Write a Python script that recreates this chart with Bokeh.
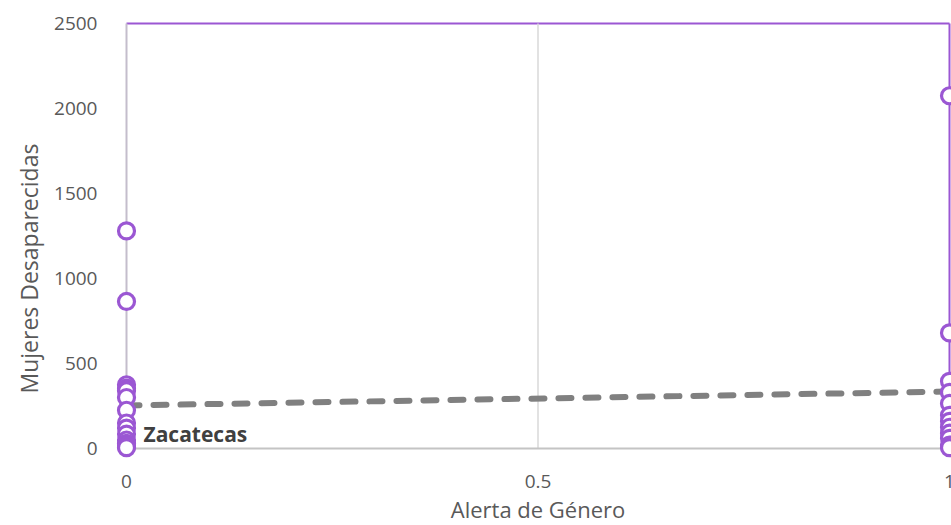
from bokeh.plotting import figure
from bokeh.models import Label, Title, FixedTicker, Range1d
from bokeh.core.properties import value
from bokeh.embed import file_html
from bokeh.resources import INLINE

# ---- data ----
alerta_sin = [0] * 14
desap_sin = [1280, 865, 375, 355, 340, 300, 225, 150, 120, 85, 50, 30, 15, 5]
alerta_con = [1] * 12
desap_con = [2075, 680, 395, 330, 265, 195, 160, 125, 90, 60, 20, 5]
trend_x = [0, 1]
trend_y = [253, 335]
label_state = "Zacatecas"
label_value = 85
x_ticks = [0, 0.5, 1]
x_tick_labels = ["0", "0.5", "1"]
y_ticks = [0, 500, 1000, 1500, 2000, 2500]
X_MIN, X_MAX, Y_MIN, Y_MAX = 0, 1, 0, 2500

PURPLE = "#9b57d3"
TXT = "#595959"
FONT = "Open Sans"

W, H = 951, 525
PX_X = 823.0   # pixels per x unit
PX_Y = 0.17    # pixels per y unit
p = figure(width=W, height=H, output_backend="svg", toolbar_location=None,
           x_axis_location=None,
           x_range=Range1d(-17 / PX_X, 825 / PX_X),
           y_range=Range1d(-77 / PX_Y, 2500 + 2 / PX_Y),
           min_border_left=109, min_border_right=0, min_border_top=21, min_border_bottom=0)
p.outline_line_color = None
p.background_fill_color = "white"
p.xgrid.visible = False
p.ygrid.visible = False

ax = p.yaxis[0]
ax.axis_line_color = None
ax.major_tick_line_color = None
ax.minor_tick_line_color = None
ax.major_label_text_color = TXT
ax.major_label_text_font = FONT
ax.major_label_text_font_size = "19px"
ax.ticker = FixedTicker(ticks=y_ticks)
ax.major_label_standoff = 6

# border / grid decorations
p.segment(x0=[X_MIN, X_MAX], y0=[Y_MAX, Y_MIN], x1=[X_MAX, X_MAX], y1=[Y_MAX, Y_MAX],
          line_color=PURPLE, line_width=2)
p.segment(x0=[0.5], y0=[Y_MIN], x1=[0.5], y1=[Y_MAX], line_color="#d9d9d9", line_width=1.5)
p.segment(x0=[X_MIN], y0=[Y_MIN], x1=[X_MIN], y1=[Y_MAX], line_color="#c4bdcc", line_width=2)
p.segment(x0=[X_MIN], y0=[Y_MIN], x1=[X_MAX], y1=[Y_MIN], line_color="#c4c4c4", line_width=2)

# trend line
p.line(trend_x, trend_y, line_color="#808080", line_width=6, line_dash="13 14", line_cap="round")

# points
p.scatter(alerta_sin + alerta_con, desap_sin + desap_con, size=16, marker="circle",
          fill_color="white", line_color=PURPLE, line_width=3.2)

# x tick labels (drawn below the y=0 line)
p.text(x=x_ticks, y=[-33 / PX_Y] * len(x_ticks), text=x_tick_labels,
       text_font=value(FONT), text_font_size="19px", text_color=TXT,
       text_align="center", text_baseline="middle")

# data label
p.add_layout(Label(x=0, y=label_value, x_offset=17, text=label_state, text_font=FONT,
                   text_font_style="bold", text_font_size="21px", text_color="#404040",
                   text_baseline="middle", text_align="left"))

# axis titles
p.add_layout(Label(x=0.5, y=-75 / PX_Y, text="Alerta de Género", text_font=FONT,
                   text_font_size="22px", text_color=TXT, text_align="center",
                   text_baseline="bottom"))
p.add_layout(Title(text="Mujeres Desaparecidas", align="left", offset=132, standoff=13,
                   text_font=FONT, text_font_size="23px", text_font_style="normal",
                   text_color=TXT), "left")

open("out.html", "w").write(file_html(p, INLINE))
